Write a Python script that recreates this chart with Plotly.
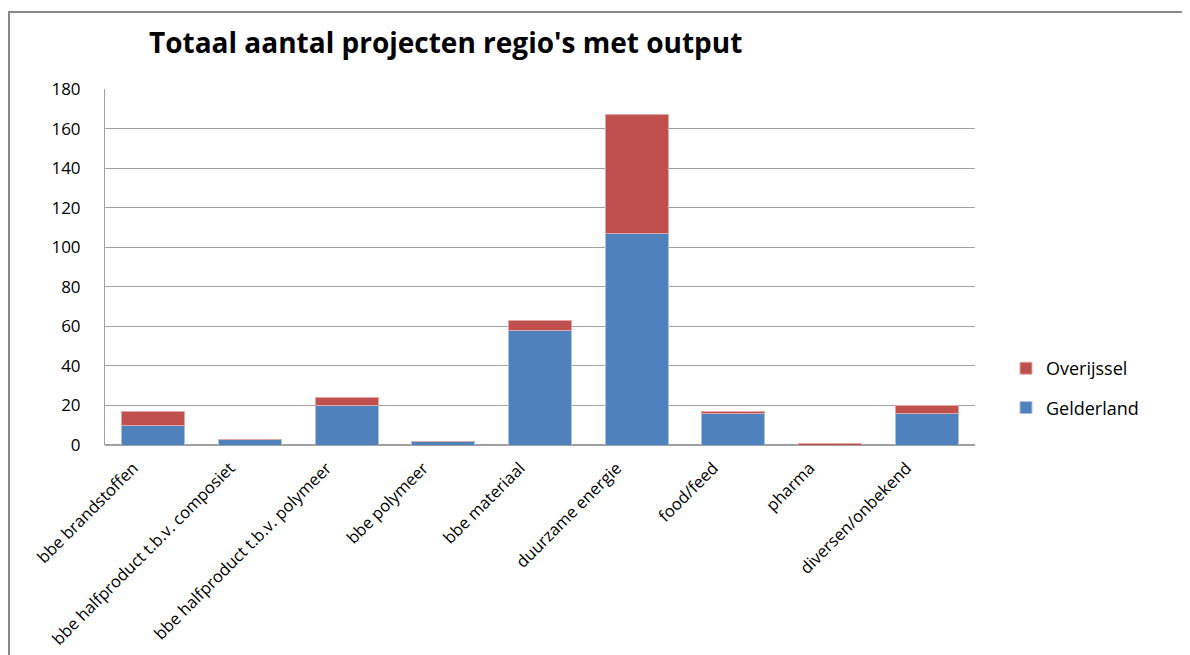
import plotly.graph_objects as go

categories = ["bbe brandstoffen", "bbe halfproduct t.b.v. composiet", "bbe halfproduct t.b.v. polymeer",
              "bbe polymeer", "bbe materiaal", "duurzame energie", "food/feed", "pharma", "diversen/onbekend"]
gelderland = [10, 3, 20, 2, 58, 107, 16, 0, 16]
overijssel = [7, 0, 4, 0, 5, 60, 1, 1, 4]
y_ticks = [0, 20, 40, 60, 80, 100, 120, 140, 160, 180]

fig = go.Figure()
fig.add_trace(go.Bar(x=categories, y=gelderland, name="Gelderland", legendrank=2,
                     marker=dict(color="#4F81BD", line=dict(color="#a9c0e0", width=1)), legendgroup="g"))
fig.add_trace(go.Bar(x=categories, y=overijssel, name="Overijssel", legendrank=1,
                     marker=dict(color="#C0504D", line=dict(color="#e0a9a8", width=1)), legendgroup="o"))

OFF = 8  # page body margin
L, R, T, B = 105 - OFF, 975 - OFF, 89 - OFF, 445 - OFF
W, H = 1190 - OFF, 655 - OFF


def px(x):
    return (x - OFF - L) / (R - L)


def py(y):
    return (B - (y - OFF)) / (B - T)


fig.update_layout(
    width=W, height=H,
    barmode="stack", bargap=0.35,
    margin=dict(l=L, r=W - R, t=T, b=H - B, autoexpand=False),
    plot_bgcolor="white", paper_bgcolor="white",
    font=dict(family="Open Sans, sans-serif", color="black", size=15),
    showlegend=True,
    legend=dict(x=px(1006), y=py(350), xanchor="left", yanchor="top", traceorder="grouped",
                tracegroupgap=13, font=dict(size=18)),
    xaxis=dict(tickangle=-45, showline=False, ticks="outside", ticklen=6, tickcolor="rgba(0,0,0,0)",
               tickfont=dict(size=16.5), automargin=False, ticklabelshift=-20),
    yaxis=dict(range=[0, 180], tickvals=y_ticks, showgrid=True, gridcolor="#a0a0a0", gridwidth=1,
               showline=True, linecolor="#a0a0a0", linewidth=1, ticks="outside", ticklen=20,
               tickcolor="rgba(0,0,0,0)", tickfont=dict(size=17), automargin=False,
               zeroline=True, zerolinecolor="#a0a0a0"),
    annotations=[dict(text="<b>Totaal aantal projecten regio's met output</b>", xref="paper", yref="paper",
                      x=px(445), y=py(42), xanchor="center", yanchor="middle", showarrow=False,
                      font=dict(size=28, family="Open Sans, sans-serif"))],
    shapes=[
        dict(type="line", xref="paper", yref="paper", x0=px(8), x1=px(1200), y0=py(12), y1=py(12),
             line=dict(color="#888888", width=2)),
        dict(type="line", xref="paper", yref="paper", x0=px(9), x1=px(9), y0=py(12), y1=py(670),
             line=dict(color="#888888", width=2)),
    ],
)

fig.write_html("out.html")
